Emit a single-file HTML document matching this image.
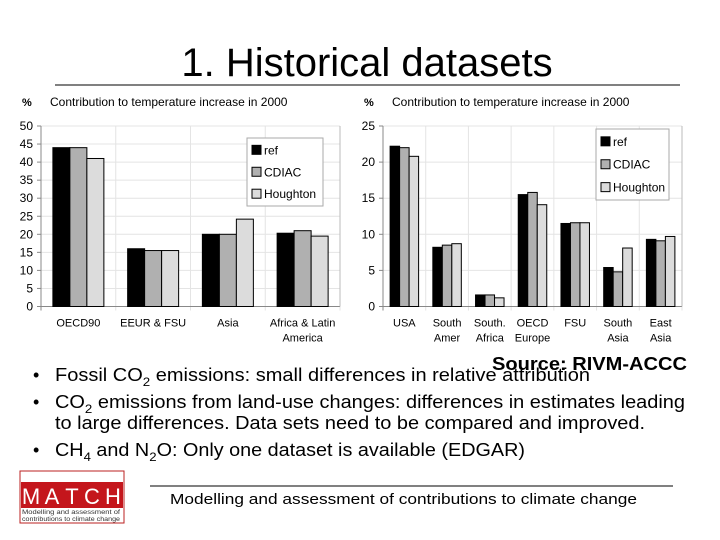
<!DOCTYPE html>
<html><head><meta charset="utf-8"><style>
html,body{margin:0;padding:0;background:#fff;}
svg{display:block;font-family:"Liberation Sans",sans-serif;}
</style></head><body>
<svg id="s" width="720" height="540" viewBox="0 0 720 540">
<text x="367" y="76" font-size="40" text-anchor="middle" fill="#000">1. Historical datasets</text>
<line x1="55" y1="85" x2="680" y2="85" stroke="#000" stroke-width="1"/>
<g id="c1"></g>
<g id="c2"></g>
<text x="492" y="370" font-size="18" font-weight="bold" textLength="195" lengthAdjust="spacingAndGlyphs">Source: RIVM-ACCC</text>
<g font-size="18" fill="#000">
<text x="33" y="381">•</text>
<text x="55" y="381" textLength="535" lengthAdjust="spacingAndGlyphs">Fossil CO<tspan font-size="12" dy="5">2</tspan><tspan dy="-5"> emissions: small differences in relative attribution</tspan></text>
<text x="33" y="408">•</text>
<text x="55" y="408" textLength="630" lengthAdjust="spacingAndGlyphs">CO<tspan font-size="12" dy="5">2</tspan><tspan dy="-5"> emissions from land-use changes: differences in estimates leading</tspan></text>
<text x="55" y="429" textLength="590" lengthAdjust="spacingAndGlyphs">to large differences. Data sets need to be compared and improved.</text>
<text x="33" y="456">•</text>
<text x="55" y="456" textLength="470" lengthAdjust="spacingAndGlyphs">CH<tspan font-size="12" dy="5">4</tspan><tspan dy="-5"> and N</tspan><tspan font-size="12" dy="5">2</tspan><tspan dy="-5">O: Only one dataset is available (EDGAR)</tspan></text>
</g>
<g>
<rect x="20" y="471" width="104" height="52" fill="#fff" stroke="#b22" stroke-width="1"/>
<rect x="21" y="482" width="102" height="26" fill="#c4161c"/>
<g fill="#fff" font-size="22" text-anchor="middle">
<text x="31" y="504">M</text><text x="52" y="504">A</text><text x="72" y="504">T</text><text x="92" y="504">C</text><text x="113" y="504">H</text></g>
<text x="22" y="514" font-size="6.5" fill="#333" textLength="98" lengthAdjust="spacingAndGlyphs">Modelling and assessment of</text>
<text x="22" y="521" font-size="6.5" fill="#333" textLength="98" lengthAdjust="spacingAndGlyphs">contributions to climate change</text>
</g>
<line x1="150" y1="486" x2="673" y2="486" stroke="#000" stroke-width="1"/>
<text x="170" y="504" font-size="15" textLength="467" lengthAdjust="spacingAndGlyphs">Modelling and assessment of contributions to climate change</text>
</svg>
<script>
const cats1 = ["OECD90","EEUR & FSU","Asia","Africa & Latin|America"];
const ref1 = [44,16,20,20.3];
const cdiac1 = [44,15.5,20,21];
const hough1 = [41,15.5,24.2,19.5];
const ticks1 = [0,5,10,15,20,25,30,35,40,45,50];

const cats2 = ["USA","South|Amer","South.|Africa","OECD|Europe","FSU","South|Asia","East|Asia"];
const ref2 = [22.2,8.2,1.6,15.5,11.5,5.4,9.3];
const cdiac2 = [22,8.5,1.6,15.8,11.6,4.8,9.1];
const hough2 = [20.8,8.7,1.2,14.1,11.6,8.1,9.7];
const ticks2 = [0,5,10,15,20,25];

const NS="http://www.w3.org/2000/svg";
function mk(p,t,a){const e=document.createElementNS(NS,t);for(const k in a)e.setAttribute(k,a[k]);p.appendChild(e);return e;}
const fills=["#000","#b0b0b0","#dcdcdc"];
const snames=["ref","CDIAC","Houghton"];

function chart(g,o){
  const y=v=>o.y0-(v/o.max)*(o.y0-o.y1);
  const cw=(o.x1-o.x0)/o.cats.length;
  const x=i=>o.x0+i*cw;
  let t=mk(g,"text",{x:o.x0-19,y:106,"font-size":11,"font-weight":"bold"});t.textContent="%";
  
  
  t=mk(g,"text",{x:o.x0+9,y:106,"font-size":12});t.textContent="Contribution to temperature increase in 2000";
  
  
  o.ticks.forEach(v=>{
    const l=mk(g,"line",{x1:o.x0,x2:o.x1,y1:y(v),y2:y(v),stroke:"#e4e4e4"});
    
    
    const tk=mk(g,"line",{x1:o.x0-4,x2:o.x0,y1:y(v),y2:y(v),stroke:"#888"});
    
    
    const tl=mk(g,"text",{x:o.x0-8,y:y(v)+4,"font-size":12,"text-anchor":"end"});tl.textContent=v;
    
    
  });
  for(let i=0;i<=o.cats.length;i++){
    const l=mk(g,"line",{x1:x(i),x2:x(i),y1:o.y1,y2:o.y0+4,stroke:i==0?"#888":"#e4e4e4"});
    
    
  }
  mk(g,"line",{x1:o.x0,x2:o.x1,y1:o.y0,y2:o.y0,stroke:"#888"});
  mk(g,"line",{x1:o.x1,x2:o.x1,y1:o.y1,y2:o.y0,stroke:"#bbb"});
  const series=[o.a,o.b,o.c];
  o.cats.forEach((c,i)=>{
    series.forEach((s,j)=>{
      const bx=x(i)+(cw-3*o.bw)/2+j*o.bw;
      const r=mk(g,"rect",{x:bx,y:y(s[i]),width:o.bw,height:o.y0-y(s[i]),fill:fills[j],stroke:"#000","stroke-width":1});
      
      
    });
    c.split("|").forEach((ln,k)=>{
      const tl=mk(g,"text",{x:x(i)+cw/2,y:o.y0+20+k*15,"font-size":11,"text-anchor":"middle"});tl.textContent=ln;
      
      
    });
  });
  const L=o.leg;
  const lg=mk(g,"g",{});
  
  
  mk(lg,"rect",{x:L.x,y:L.y,width:L.w,height:L.h,fill:"#fff",stroke:"#aaa"});
  snames.forEach((n,j)=>{
    const ey=L.y+L.h/6+j*L.h/3.1;
    const e=mk(lg,"rect",{x:L.x+5,y:ey-4,width:9,height:9,fill:fills[j],stroke:"#000"});
    
    
    const tl=mk(lg,"text",{x:L.x+17,y:ey+5,"font-size":12});tl.textContent=n;
    
    
  });
}
chart(document.getElementById("c1"),{x0:41,x1:340,y0:306.5,y1:126,max:50,ticks:ticks1,cats:cats1,a:ref1,b:cdiac1,c:hough1,bw:17,leg:{x:247,y:138,w:76,h:68}});
chart(document.getElementById("c2"),{x0:383,x1:682,y0:306.5,y1:126,max:25,ticks:ticks2,cats:cats2,a:ref2,b:cdiac2,c:hough2,bw:9.5,leg:{x:596,y:129,w:73,h:71}});
</script>
</body></html>
